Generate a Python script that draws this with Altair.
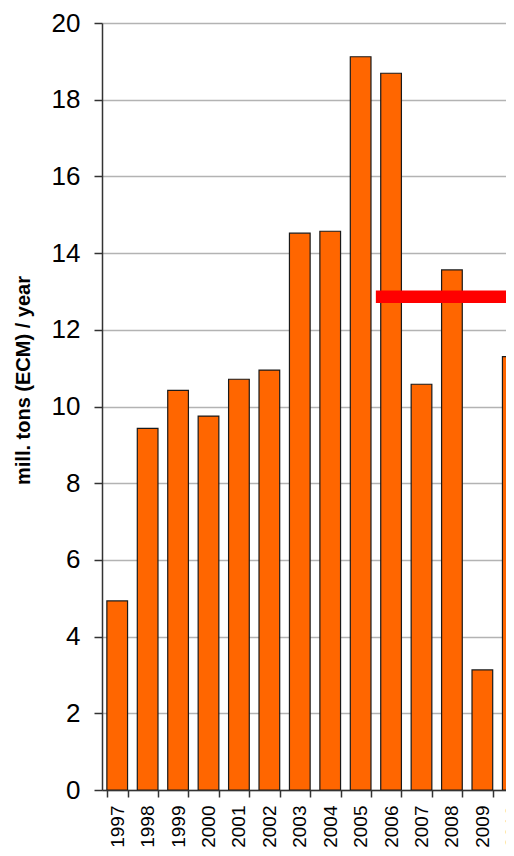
import altair as alt
import pandas as pd

years = ["1997", "1998", "1999", "2000", "2001", "2002", "2003", "2004",
         "2005", "2006", "2007", "2008", "2009", "2010"]
values = [4.93, 9.43, 10.42, 9.75, 10.71, 10.95, 14.52, 14.57,
          19.12, 18.69, 10.58, 13.56, 3.13, 11.30]

avg_start = [2006]
avg_end = [2010]
avg_value = [12.86]

bars_df = pd.DataFrame({"year": years, "value": values})
avg_df = pd.DataFrame({"start": avg_start, "end": avg_end, "value": avg_value})

xscale = alt.Scale(domain=years, range=[0, 426], paddingInner=0.32, paddingOuter=0.16)
yscale = alt.Scale(domain=[0, 20], nice=False)

bars = alt.Chart(bars_df).mark_bar(
    color="#FF6600", stroke="#1a1a1a", strokeWidth=1.2, clip=True
).encode(
    x=alt.X("year:N", scale=xscale, sort=years,
            axis=alt.Axis(title=None, labelAngle=-90, labelFontSize=19,
                          labelFont="Liberation Sans", labelColor="#000000",
                          labelPadding=8, tickBand="extent", tickSize=7,
                          tickColor="#333333", tickWidth=1.5,
                          domainColor="#333333", domainWidth=1.5,
                          labelAlign="right", labelBaseline="middle",
                          grid=False)),
    y=alt.Y("value:Q", scale=yscale,
            axis=alt.Axis(title="mill. tons (ECM) / year", values=list(range(0, 21, 2)),
                          labelFontSize=26, labelFont="Liberation Sans",
                          labelColor="#000000", labelPadding=14,
                          tickSize=8, tickColor="#333333", tickWidth=1.5,
                          domainColor="#333333", domainWidth=1.5,
                          grid=True, gridColor="#b3b3b3", gridWidth=1.5,
                          titleFont="Liberation Sans", titleFontSize=20,
                          titleFontWeight="bold", titleColor="#000000",
                          titleX=-69, titleY=357)),
)

avg = alt.Chart(avg_df).transform_calculate(
    x0="datum.start - 0.5", x1="datum.end + 0.5"
).mark_rule(color="#FF0000", strokeWidth=12.5, strokeCap="butt", clip=True).encode(
    x=alt.X("x0:Q", scale=alt.Scale(domain=[1996.5, 2010.5], range=[0, 426], nice=False, zero=False), axis=None),
    x2="x1:Q",
    y=alt.Y("value:Q", scale=yscale),
)

chart = alt.layer(bars, avg).resolve_scale(x="independent").properties(
    width=404, height=767,
    autosize=alt.AutoSizeParams(type="none"),
    padding={"left": 94, "top": 15, "right": 0, "bottom": 58},
    background="#ffffff",
).configure_view(stroke=None)

chart.save("out.html", embed_options={"renderer": "svg", "actions": False})
